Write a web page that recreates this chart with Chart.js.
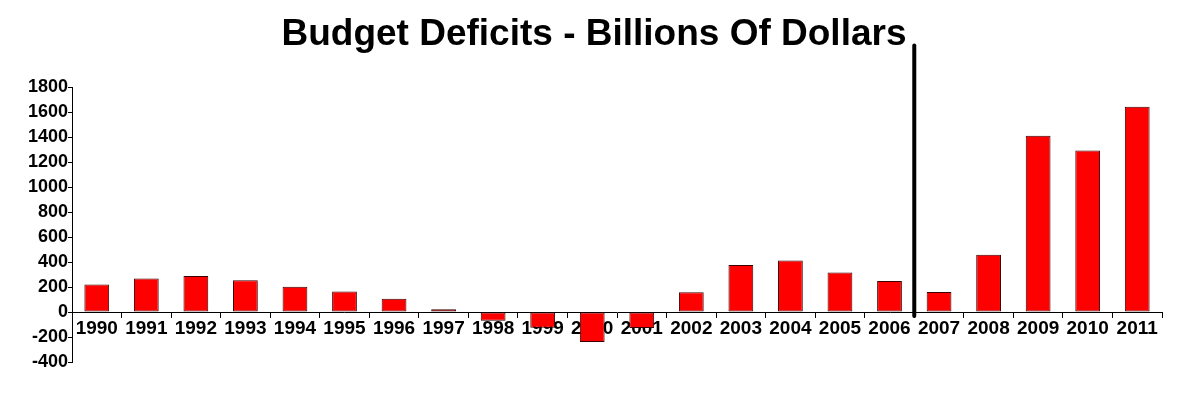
<!DOCTYPE html>
<html>
<head>
<meta charset="utf-8">
<script src="https://cdn.jsdelivr.net/npm/chart.js@4/dist/chart.umd.min.js"></script>
<style>
  html, body { margin: 0; padding: 0; background: #fff; }
  #wrap { width: 1191px; height: 396px; }
</style>
</head>
<body>
<div id="wrap"><canvas id="chart"></canvas></div>
<script>
// values (billions of dollars)
var years = ['1990','1991','1992','1993','1994','1995','1996','1997','1998','1999','2000',
             '2001','2002','2003','2004','2005','2006','2007','2008','2009','2010','2011'];
var deficits = [221, 269, 290, 255, 203, 164, 107, 22, -70, -126, -240,
                -128, 158, 378, 413, 318, 248, 161, 459, 1413, 1294, 1645];
var yMin = -400, yMax = 1800, yStep = 200;
var dividerAfter = '2006'; // heavy black divider between 2006 and 2007

var font = 'Liberation Sans, Arial, sans-serif';

// thick vertical divider drawn from the category scale
var dividerPlugin = {
  id: 'divider',
  afterDatasetsDraw: function(chart){
    var x = chart.scales.x, y = chart.scales.y, ctx = chart.ctx;
    var i = years.indexOf(dividerAfter);
    var px = (x.getPixelForValue(i) + x.getPixelForValue(i + 1)) / 2;
    ctx.save();
    ctx.strokeStyle = '#000';
    ctx.lineWidth = 4;
    ctx.lineCap = 'round';
    ctx.beginPath();
    ctx.moveTo(px, chart.chartArea.top - 42);
    ctx.lineTo(px, y.getPixelForValue(0) + 4);
    ctx.stroke();
    ctx.restore();
  }
};

new Chart(document.getElementById('chart'), {
  type: 'bar',
  data: {
    labels: years,
    datasets: [{
      data: deficits,
      backgroundColor: '#ff0000',
      borderColor: '#3a0000',
      borderWidth: 1,
      borderSkipped: false,
      barPercentage: 0.5,
      categoryPercentage: 1
    }]
  },
  options: {
    responsive: true,
    maintainAspectRatio: false,
    animation: false,
    layout: { padding: { top: 0, right: 29, bottom: 34, left: 26 } },
    plugins: {
      legend: { display: false },
      tooltip: { enabled: false },
      title: {
        display: true,
        text: 'Budget Deficits - Billions Of Dollars',
        color: '#000',
        font: { family: font, size: 37, weight: 'bold', lineHeight: 1.2 },
        padding: { top: 13, bottom: 30 }
      }
    },
    scales: {
      x: {
        position: { y: 0 },
        offset: true,
        grid: { display: true, drawOnChartArea: false, offset: true, tickLength: 5, color: '#000', tickColor: '#000' },
        border: { display: true, color: '#000', width: 1 },
        ticks: { color: '#000', font: { family: font, size: 19, weight: 'bold' }, padding: 0, maxRotation: 0, autoSkip: false }
      },
      y: {
        min: yMin,
        max: yMax,
        afterFit: function(s){ s.width = 46; },
        grid: { display: true, drawOnChartArea: false, tickLength: 4, color: '#000', tickColor: '#000' },
        border: { display: true, color: '#000', width: 1 },
        ticks: {
          stepSize: yStep, autoSkip: false, color: '#000', font: { family: font, size: 18, weight: 'bold' }, padding: 0,
          callback: function(v){ return String(v); }
        }
      }
    }
  },
  plugins: [dividerPlugin]
});
</script>
</body>
</html>
